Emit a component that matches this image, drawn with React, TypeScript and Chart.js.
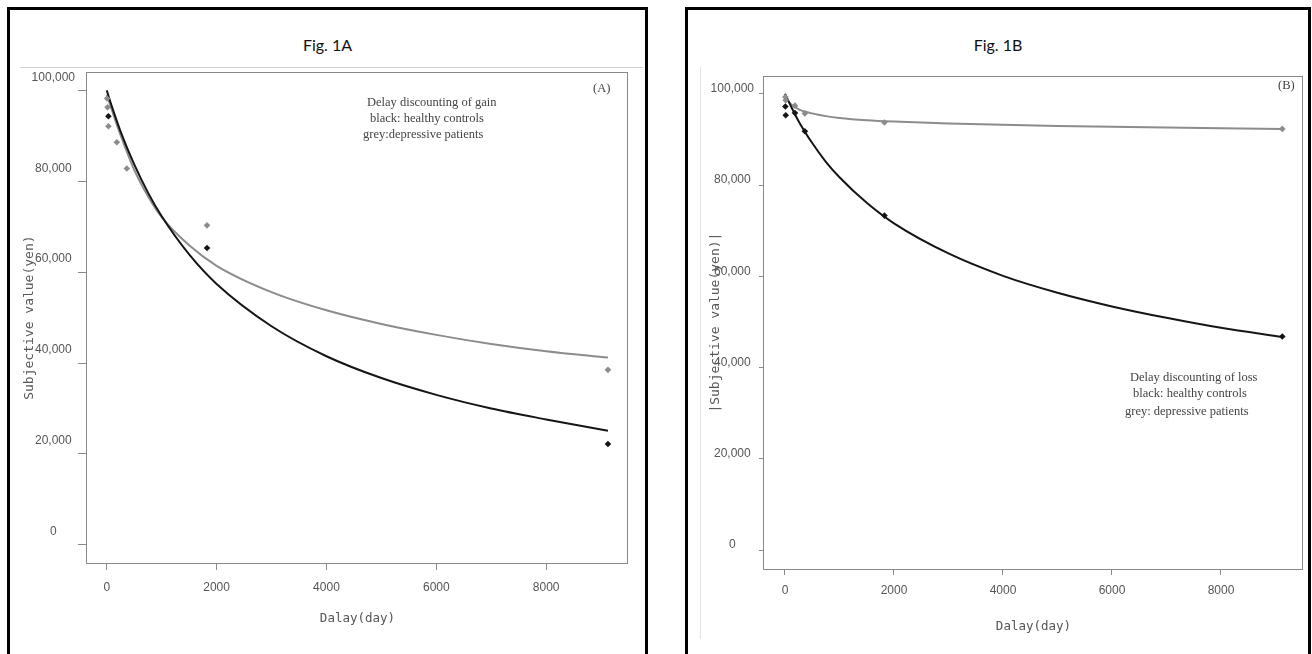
import React, { useEffect, useRef } from "react";
import { Chart, registerables } from "chart.js";

Chart.register(...registerables);

// ---------------- data ----------------
const curveDays = [0, 100, 250, 500, 750, 1000, 1500, 2000, 3000, 4000, 5000, 6000, 7000, 8000, 9125];

// Fig. 1A – delay discounting of gain (fitted curves)
const gainHealthyCurve = [100000, 96200, 91000, 83700, 77500, 72300, 63900, 57400, 48100, 41500, 36700, 33000, 30000, 27600, 25100];
const gainDepressedCurve = [99000, 95400, 90200, 82500, 76700, 72100, 65900, 61400, 55600, 51600, 48600, 46200, 44200, 42600, 41200];

// Fig. 1A – observed points
const gainHealthyDays = [30, 1825, 9125];
const gainHealthyValues = [94300, 65300, 22200];
const gainDepressedDays = [7, 14, 30, 183, 365, 1825, 9125];
const gainDepressedValues = [98200, 96300, 92100, 88600, 82800, 70300, 38500];

// Fig. 1B – delay discounting of loss (fitted curves)
const lossHealthyCurve = [100000, 97500, 94000, 89200, 85100, 81700, 76100, 71600, 65000, 60100, 56400, 53400, 50900, 48700, 46700];
const lossDepressedCurve = [99500, 97800, 96600, 95700, 95100, 94700, 94200, 93900, 93500, 93200, 92950, 92750, 92600, 92450, 92300];

// Fig. 1B – observed points
const lossHealthyDays = [7, 14, 183, 365, 1825, 9125];
const lossHealthyValues = [97200, 95300, 95800, 91800, 73300, 46800];
const lossDepressedDays = [7, 14, 183, 365, 1825, 9125];
const lossDepressedValues = [99300, 98600, 97400, 95700, 93700, 92300];

// axis ticks
const xTickValues = [0, 2000, 4000, 6000, 8000];
const yTickValues = [0, 20000, 40000, 60000, 80000, 100000];

const xAxisTitle = "Dalay(day)";
const gainYTitle = "Subjective value(yen)";
const lossYTitle = "|Subjective value(yen)|";

// ---------------- styling ----------------
const BLACK = "#151515";
const GREY = "#8c8c8c";
const AXIS = "#8a8a8a";
const TEXT = "#555555";
const TICK_FONT = "'Liberation Sans Narrow', 'Liberation Sans', Arial, sans-serif";
const MONO_FONT = "'DejaVu Sans Mono', 'Liberation Mono', monospace";

const pairs = (xs: number[], ys: number[]) => xs.map((x, i) => ({ x, y: ys[i] }));

const framePlugin = {
  id: "frameBox",
  afterDraw(chart: any) {
    const { ctx, chartArea } = chart;
    const { left, top, right, bottom } = chartArea;
    ctx.save();
    ctx.strokeStyle = AXIS;
    ctx.lineWidth = 1;
    ctx.strokeRect(Math.round(left) - 0.5, Math.round(top) + 0.5, Math.round(right - left), Math.round(bottom - top));
    ctx.restore();
  },
};

type Geom = {
  padTop: number;
  padRight: number;
  yWidth: number;
  xHeight: number;
  xMin: number;
  xMax: number;
  yMin: number;
  yMax: number;
  yTickLen: number;
  yTickPad: number;
  yLabelOffset: number;
  xTickLen: number;
  xTickPad: number;
  xTitlePad: number;
  yTitlePad: number;
};

function buildConfig(
  healthyCurve: number[],
  depressedCurve: number[],
  hDays: number[],
  hVals: number[],
  dDays: number[],
  dVals: number[],
  yTitle: string,
  g: Geom,
  lineW: number
): any {
  const pointDs = (data: any[], color: string) => ({
    type: "scatter",
    data,
    showLine: false,
    pointStyle: "rectRot",
    pointRadius: 3.3,
    pointBackgroundColor: color,
    pointBorderColor: color,
    pointBorderWidth: 0,
  });
  const lineDs = (data: any[], color: string, w: number) => ({
    type: "scatter",
    data,
    showLine: true,
    borderColor: color,
    borderWidth: w,
    pointRadius: 0,
    cubicInterpolationMode: "monotone",
    fill: false,
  });
  return {
    type: "scatter",
    data: {
      datasets: [
        pointDs(pairs(hDays, hVals), BLACK),
        pointDs(pairs(dDays, dVals), GREY),
        lineDs(pairs(curveDays, healthyCurve), BLACK, lineW),
        lineDs(pairs(curveDays, depressedCurve), GREY, lineW),
      ],
    },
    options: {
      animation: false,
      responsive: false,
      maintainAspectRatio: false,
      events: [],
      layout: { padding: { top: g.padTop, right: g.padRight, left: 0, bottom: 0 } },
      plugins: { legend: { display: false }, tooltip: { enabled: false }, title: { display: false } },
      scales: {
        x: {
          type: "linear",
          min: g.xMin,
          max: g.xMax,
          afterBuildTicks: (s: any) => {
            s.ticks = xTickValues.map((v) => ({ value: v }));
          },
          afterFit: (s: any) => {
            s.height = g.xHeight;
          },
          border: { display: false },
          grid: { display: true, drawOnChartArea: false, drawTicks: true, tickLength: g.xTickLen, color: AXIS, lineWidth: 1 },
          ticks: {
            color: TEXT,
            font: { family: TICK_FONT, size: 12 },
            padding: g.xTickPad,
            maxRotation: 0,
            callback: (v: any) => String(v),
          },
          title: {
            display: true,
            text: xAxisTitle,
            color: TEXT,
            font: { family: MONO_FONT, size: 12.5 },
            padding: { top: 0, bottom: g.xTitlePad },
          },
        },
        y: {
          type: "linear",
          min: g.yMin,
          max: g.yMax,
          afterBuildTicks: (s: any) => {
            s.ticks = yTickValues.map((v) => ({ value: v }));
          },
          afterFit: (s: any) => {
            s.width = g.yWidth;
          },
          border: { display: false },
          grid: { display: true, drawOnChartArea: false, drawTicks: true, tickLength: g.yTickLen, color: AXIS, lineWidth: 1 },
          ticks: {
            color: TEXT,
            font: { family: TICK_FONT, size: 12 },
            padding: g.yTickPad,
            crossAlign: "center",
            labelOffset: g.yLabelOffset,
            callback: (v: any) => Number(v).toLocaleString("en-US"),
          },
          title: {
            display: true,
            text: yTitle,
            color: TEXT,
            font: { family: MONO_FONT, size: 13 },
            padding: { top: g.yTitlePad, bottom: 0 },
          },
        },
      },
    },
    plugins: [framePlugin],
  };
}

function ChartCanvas({ config, style }: { config: any; style: React.CSSProperties }) {
  const ref = useRef<HTMLCanvasElement | null>(null);
  useEffect(() => {
    if (!ref.current) return;
    const chart = new Chart(ref.current, config);
    return () => chart.destroy();
  }, [config]);
  const w = style.width as number;
  const h = style.height as number;
  return <canvas ref={ref} width={w} height={h} style={{ position: "absolute", ...style }} />;
}

const gainConfig = buildConfig(
  gainHealthyCurve,
  gainDepressedCurve,
  gainHealthyDays,
  gainHealthyValues,
  gainDepressedDays,
  gainDepressedValues,
  gainYTitle,
  {
    padTop: 10,
    padRight: 12,
    yWidth: 75,
    xHeight: 79,
    xMin: -360,
    xMax: 9490,
    yMin: -4000,
    yMax: 104000,
    yTickLen: 9,
    yTickPad: 3,
    yLabelOffset: -13,
    xTickLen: 7,
    xTickPad: 10,
    xTitlePad: 16,
    yTitlePad: 10,
  },
  2
);

const lossConfig = buildConfig(
  lossHealthyCurve,
  lossDepressedCurve,
  lossHealthyDays,
  lossHealthyValues,
  lossDepressedDays,
  lossDepressedValues,
  lossYTitle,
  {
    padTop: 11.5,
    padRight: 6,
    yWidth: 64,
    xHeight: 79,
    xMin: -385,
    xMax: 9505,
    yMin: -4150,
    yMax: 103850,
    yTickLen: 5,
    yTickPad: 5,
    yLabelOffset: -5,
    xTickLen: 6,
    xTickPad: 8,
    xTitlePad: 14,
    yTitlePad: 8,
  },
  2
);

const serif: React.CSSProperties = {
  position: "absolute",
  fontFamily: "'Liberation Serif', 'DejaVu Serif', serif",
  fontSize: 12.5,
  lineHeight: "16px",
  color: "#444",
  whiteSpace: "pre",
};

const figTitle: React.CSSProperties = {
  position: "absolute",
  top: 34,
  fontFamily: "Lato, 'Open Sans', sans-serif",
  fontSize: 16,
  lineHeight: "22px",
  color: "#111",
  textAlign: "center",
};

export default function App() {
  return (
    <div
      style={{
        position: "absolute",
        left: 0,
        top: 0,
        width: 1312,
        height: 654,
        overflow: "hidden",
        background: "#fff",
      }}
    >
      {/* left panel frame */}
      <div style={{ position: "absolute", left: 7, top: 7, width: 641, height: 700, border: "3px solid #000", boxSizing: "border-box" }} />
      <div style={{ ...figTitle, left: 7, width: 641 }}>Fig. 1A</div>
      <div style={{ position: "absolute", left: 20, top: 67, width: 623, height: 1, background: "#cfcfcf" }} />
      <ChartCanvas config={gainConfig} style={{ left: 12, top: 62, width: 628, height: 580 }} />
      <div style={{ ...serif, left: 367, top: 94 }}>Delay discounting of gain</div>
      <div style={{ ...serif, left: 370, top: 110 }}>black: healthy controls</div>
      <div style={{ ...serif, left: 363, top: 126 }}>grey:depressive patients</div>
      <div style={{ ...serif, left: 593, top: 80 }}>(A)</div>

      {/* right panel frame */}
      <div style={{ position: "absolute", left: 685, top: 7, width: 626, height: 700, border: "3px solid #000", boxSizing: "border-box" }} />
      <div style={{ ...figTitle, left: 685, width: 626 }}>Fig. 1B</div>
      <div style={{ position: "absolute", left: 700, top: 67, width: 1, height: 572, background: "#e2e2e2" }} />
      <ChartCanvas config={lossConfig} style={{ left: 700, top: 64, width: 609, height: 584 }} />
      <div style={{ ...serif, left: 1130, top: 369 }}>Delay discounting of loss</div>
      <div style={{ ...serif, left: 1133, top: 385 }}>black: healthy controls</div>
      <div style={{ ...serif, left: 1125, top: 403 }}>grey: depressive patients</div>
      <div style={{ ...serif, left: 1278, top: 77 }}>(B)</div>
    </div>
  );
}
